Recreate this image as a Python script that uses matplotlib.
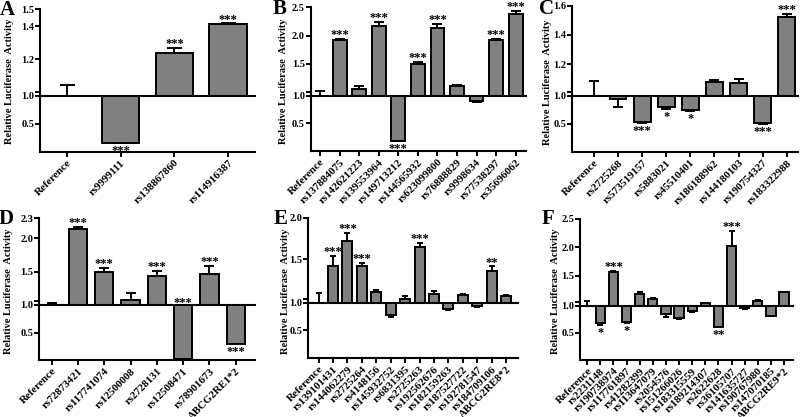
import matplotlib
matplotlib.use('Agg')
import matplotlib.pyplot as plt
import numpy as np

plt.rcParams['font.family'] = ['Liberation Serif', 'DejaVu Serif']
plt.rcParams['font.weight'] = 'bold'

# ---- data (upper segment values read on the upper scale, lower on the lower scale)
a_labels = ['Reference', 'rs9999111', 'rs138867860', 'rs114916387']
a_values = [1.0, 0.16, 1.24, 1.41]
a_errors = [0.043, 0.01, 0.03, 0.006]
a_stars = ['', '***', '***', '***']

b_labels = ['Reference', 'rs137884075', 'rs142621223', 'rs139553964', 'rs149713212',
            'rs144565932', 'rs623099800', 'rs76888829', 'rs9998634', 'rs77538297', 'rs35696062']
b_values = [1.0, 1.92, 1.06, 2.17, 0.19, 1.50, 2.14, 1.10, 0.90, 1.92, 2.38]
b_errors = [0.015, 0.02, 0.045, 0.07, 0.01, 0.03, 0.06, 0.03, 0.015, 0.025, 0.05]
b_stars = ['', '***', '', '***', '***', '***', '***', '', '', '***', '***']

c_labels = ['Reference', 'rs2725268', 'rs573519157', 'rs5883021', 'rs45510401',
            'rs186188962', 'rs144180103', 'rs190754327', 'rs183322988']
c_values = [1.0, 0.94, 0.53, 0.79, 0.75, 1.08, 1.07, 0.51, 1.52]
c_errors = [0.085, 0.14, 0.02, 0.02, 0.03, 0.01, 0.03, 0.01, 0.025]
c_stars = ['', '', '***', '*', '*', '', '', '***', '***']

d_labels = ['Reference', 'rs72873421', 'rs117741074', 'rs12500008', 'rs2728131',
            'rs12508471', 'rs78901673', 'ABCG2RE1*2']
d_values = [1.0, 2.13, 1.50, 1.075, 1.43, 0.02, 1.46, 0.30]
d_errors = [0.035, 0.035, 0.05, 0.1, 0.08, 0.0, 0.13, 0.01]
d_stars = ['', '***', '***', '', '***', '***', '***', '***']

e_labels = ['Reference', 'rs139101431', 'rs144062279', 'rs2725264', 'rs4148156',
            'rs145932752', 'rs6831395', 'rs2725263', 'rs192562676', 'rs182159263',
            'rs187527722', 'rs192781547', 'rs184709106', 'ABCG2RE8*2']
e_values = [1.0, 1.42, 1.72, 1.42, 1.10, 0.78, 1.02, 1.65, 1.08, 0.88, 1.06, 0.94, 1.36, 1.05]
e_errors = [0.09, 0.12, 0.10, 0.03, 0.025, 0.04, 0.03, 0.04, 0.03, 0.018, 0.012, 0.012, 0.05, 0.016]
e_stars = ['', '***', '***', '***', '', '', '', '***', '', '', '', '', '**', '']

f_labels = ['Reference', 'rs2231148', 'rs190738974', 'rs117761897', 'rs41282399',
            'rs113647079', 'rs2054576', 'rs151266026', 'rs183315559', 'rs189214307',
            'rs2622628', 'rs36105707', 'rs141635727', 'rs190767980', 'rs147070185', 'ABCG2RE9*2']
f_values = [1.0, 0.67, 1.57, 0.69, 1.19, 1.09, 0.84, 0.765, 0.90, 1.02, 0.61, 2.02, 0.95, 1.06, 0.81, 1.21]
f_errors = [0.064, 0.02, 0.02, 0.015, 0.02, 0.02, 0.05, 0.02, 0.012, 0.01, 0.01, 0.27, 0.01, 0.02, 0.01, 0.015]
f_stars = ['', '*', '***', '*', '', '', '', '', '', '', '**', '***', '', '', '', '']

W, H = 800, 417
fig = plt.figure(figsize=(8, 4.17), dpi=100)


def box(l, r, t, b):
    return [l / W, 1 - b / H, (r - l) / W, (b - t) / H]


def panel(letter, labels, values, errors, stars, px, upper, up_ticks, xlim, cap,
          letter_xy, ylab_xy):
    l, r, t, m, b = px
    u0, utop = upper
    ax_up = fig.add_axes(box(l, r, t, m))
    ax_lo = fig.add_axes(box(l, r, m, b))
    x = np.arange(len(labels))
    v = np.array(values)
    e = np.array(errors)
    up = v > 1.0
    dn = v < 1.0

    # bars above the break start at the segment start, bars below hang from 1.0
    ax_up.bar(x[up], v[up] - u0, bottom=u0, width=0.7, color='#808080',
              edgecolor='black', linewidth=1.4, zorder=2)
    ax_lo.bar(x[dn], v[dn] - 1.0, bottom=1.0, width=0.7, color='#808080',
              edgecolor='black', linewidth=1.4, zorder=2)
    ax_up.errorbar(x[~dn], v[~dn], yerr=[v[~dn] - u0, e[~dn]], fmt='none',
                   ecolor='black', elinewidth=1.4, capsize=cap, capthick=1.4, zorder=1)
    ax_lo.errorbar(x[dn], v[dn], yerr=[e[dn], np.zeros(dn.sum())], fmt='none',
                   ecolor='black', elinewidth=1.4, capsize=cap, capthick=1.4, zorder=3)

    for xi, vi, ei, s in zip(x, v, e, stars):
        if not s:
            continue
        if vi > 1.0:
            ax_up.annotate(s, (xi, vi + ei), xytext=(0, -1.5), textcoords='offset points',
                           ha='center', va='bottom', fontsize=9)
        elif vi - ei < 0.1:
            ax_lo.annotate(s, (xi, 1.0), xytext=(0, -3), textcoords='offset points',
                           ha='center', va='bottom', fontsize=9, annotation_clip=False)
        else:
            ax_lo.annotate(s, (xi, vi - ei), xytext=(0, -1.5), textcoords='offset points',
                           ha='center', va='top', fontsize=9)

    ppu = (m - t) / (utop - u0)
    mark = u0 + 4.0 / ppu
    ax_up.set_ylim(u0, utop)
    ax_up.set_yticks([mark] + up_ticks)
    ax_up.set_yticklabels([''] + ['%.1f' % tk for tk in up_ticks])
    ax_lo.set_ylim(0, 1.0)
    ax_lo.set_yticks([0.5, 1.0])
    ax_lo.set_yticklabels(['0.5', '1.0'])

    for ax in (ax_up, ax_lo):
        ax.set_xlim(*xlim)
        ax.spines['top'].set_visible(False)
        ax.spines['right'].set_visible(False)
        for sp in ('left', 'bottom'):
            ax.spines[sp].set_linewidth(1.5)
        ax.tick_params(axis='y', direction='out', length=3.5, width=1.4,
                       labelsize=7.5, pad=0.8)
        ax.patch.set_alpha(0)
    ax_up.tick_params(axis='x', bottom=False, labelbottom=False)
    ax_lo.set_xticks(x)
    ax_lo.set_xticklabels(labels, rotation=45, ha='right', rotation_mode='anchor',
                          fontsize=7.8)
    ax_lo.tick_params(axis='x', direction='out', length=3.5, width=1.4, pad=1.2)

    fig.text(letter_xy[0] / W, 1 - letter_xy[1] / H, letter, fontsize=15,
             fontweight='bold', ha='center', va='center')
    fig.text(ylab_xy[0] / W, 1 - ylab_xy[1] / H, 'Relative Luciferase  Activity',
             rotation=90, fontsize=7.5, fontweight='bold', ha='center', va='center')


panel('A', a_labels, a_values, a_errors, a_stars, (40, 255, 9.5, 95.7, 151.7),
      (0.98, 1.5), [1.2, 1.4, 1.5], (-0.5, 3.5), 5.4, (7, 10), (10, 81))
panel('B', b_labels, b_values, b_errors, b_stars, (310.7, 525.7, 7.3, 96, 151),
      (0.93, 2.5), [1.5, 2.0, 2.5], (-0.48, 10.51), 3.6, (280, 9), (283, 81))
panel('C', c_labels, c_values, c_errors, c_stars, (572.3, 798, 5.7, 95.7, 151.7),
      (0.985, 1.6), [1.2, 1.4, 1.6], (-0.9, 8.47), 3.6, (546, 9), (548, 82))
panel('D', d_labels, d_values, d_errors, d_stars, (39.3, 255, 218, 305, 360),
      (1.0, 2.3), [1.5, 2.0, 2.3], (-0.47, 7.73), 3.6, (6, 219), (9, 291))
panel('E', e_labels, e_values, e_errors, e_stars, (308.3, 518, 217.7, 302.7, 358),
      (0.971, 2.0), [1.5, 2.0], (-0.71, 13.82), 2.5, (281, 219), (285, 291))
panel('F', f_labels, f_values, f_errors, f_stars, (580, 793, 219, 305.5, 360),
      (0.98, 2.5), [1.5, 2.0, 2.5], (-0.55, 15.68), 2.5, (548, 219), (555, 291))

fig.savefig('out.png', dpi=100)
